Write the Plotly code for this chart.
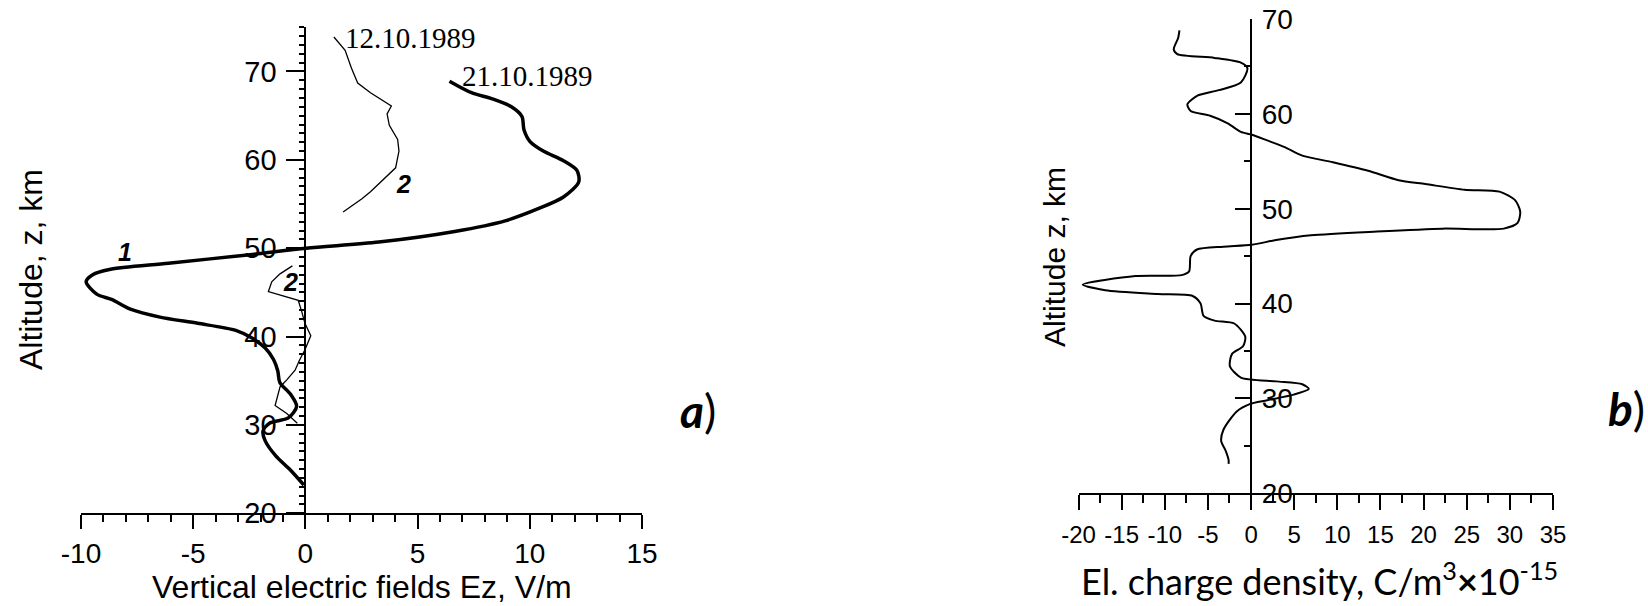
import plotly.graph_objects as go

# ---------------- data ----------------
# Panel a: curve 1 (21.10.1989), thick
z1 = [23.2, 24.9, 26.5, 28.2, 29.3, 30.2, 30.8, 32.1, 33.5, 34.8, 36.1, 37.4, 38.7, 39.8, 40.7, 41.5,
      42.2, 43.1, 44.2, 44.8, 46.2, 47.0, 47.6, 48.3, 49.3, 50.0, 50.7, 51.9, 53.1, 54.5, 55.8, 57.5,
      58.8, 59.9, 61.0, 62.1, 63.4, 64.9, 66.0, 66.9, 67.6, 68.9]
ez1 = [-0.07, -0.67, -1.32, -1.79, -1.89, -1.6, -0.76, -0.39, -0.67, -1.14, -1.23, -1.42, -1.79, -2.36,
       -3.1, -4.8, -6.48, -7.8, -8.64, -9.3, -9.77, -9.48, -8.73, -6.1, -2.36, 0.03, 3.27, 6.65, 8.9,
       10.4, 11.5, 12.18, 12.1, 11.5, 10.6, 10.0, 9.74, 9.65, 9.18, 8.33, 7.4, 6.42]

# Panel a: curve 2 (12.10.1989), thin, upper part
z2_upper = [54.1, 55.6, 56.4, 57.7, 59.1, 61.0, 62.3, 63.9, 65.2, 66.1, 66.7, 67.6, 68.7, 70.4, 72.4, 73.9]
ez2_upper = [1.68, 2.52, 2.9, 3.46, 4.02, 4.17, 4.11, 3.74, 3.64, 3.83, 3.46, 2.9, 2.33, 2.05, 1.77, 1.27]

# Panel a: curve 2, thin, lower part
z2_lower = [30.2, 31.3, 32.2, 33.2, 34.3, 35.1, 36.2, 37.3, 38.5, 40.1, 41.5, 42.8, 44.1, 45.1, 46.2, 47.1, 48.0]
ez2_lower = [-0.36, -0.83, -1.35, -1.25, -1.13, -0.83, -0.46, -0.27, -0.02, 0.24, -0.02, -0.16, -0.32,
             -1.65, -1.5, -1.13, -0.58]

# Panel b: charge density profile
zb = [68.8, 68.0, 66.8, 66.3, 65.9, 65.4, 64.8, 63.3, 62.5, 61.9, 61.0, 60.3, 59.8, 59.0, 58.1, 57.8,
      57.2, 56.5, 55.6, 54.9, 54.0, 53.0, 52.6, 52.0, 51.8, 50.9, 49.7, 48.5, 47.9, 47.9, 47.6, 47.2,
      46.7, 46.2, 46.0, 45.7, 45.0, 43.4, 43.0, 42.9, 42.0, 41.4, 41.0, 40.8, 40.0, 38.7, 38.2, 37.9,
      36.5, 35.5, 34.7, 33.4, 32.2, 31.8, 31.5, 31.0, 30.4, 29.8, 29.4, 28.6, 26.7, 25.5, 24.5, 23.5, 23.1]
rho = [-8.3, -8.45, -8.96, -8.55, -4.23, -1.18, -0.42, -1.18, -3.72, -6.26, -7.38, -7.0, -4.74, -2.7,
       -1.18, 0.09, 1.87, 3.9, 5.94, 9.5, 13.57, 17.1, 20.2, 24.75, 28.8, 30.6, 31.2, 30.9, 29.3, 22.2,
       14.6, 6.95, 2.9, 0.09, -3.2, -6.27, -7.0, -7.18, -8.04, -13.4, -19.5, -16.9, -10.8, -6.77, -5.85,
       -5.5, -4.23, -1.95, -0.67, -0.93, -2.2, -2.45, -1.18, 2.9, 5.94, 6.7, 4.93, 1.87, -0.16, -1.69,
       -3.2, -3.46, -2.95, -2.6, -2.6]

# tick labels (hyphen minus as in the original)
xa_ticks = [-10, -5, 0, 5, 10, 15]
xa_labels = ["-10", "-5", "0", "5", "10", "15"]
xb_ticks = [-20, -15, -10, -5, 0, 5, 10, 15, 20, 25, 30, 35]
xb_labels = ["-20", "-15", "-10", "-5", "0", "5", "10", "15", "20", "25", "30", "35"]
ya_ticks = [20, 30, 40, 50, 60, 70]
yb_ticks = [20, 30, 40, 50, 60, 70]

W, H = 1648, 606
SANS = "Liberation Sans, Arial, sans-serif"
SERIF = "Liberation Serif, Times New Roman, serif"
HUM = "Lato, Open Sans, sans-serif"

fig = go.Figure()
fig.add_trace(go.Scatter(x=ez1, y=z1, mode="lines", line=dict(color="black", width=3.5, shape="spline", smoothing=0.8),
                         xaxis="x", yaxis="y", showlegend=False, hoverinfo="skip"))
fig.add_trace(go.Scatter(x=ez2_upper, y=z2_upper, mode="lines", line=dict(color="black", width=1.3),
                         xaxis="x", yaxis="y", showlegend=False, hoverinfo="skip"))
fig.add_trace(go.Scatter(x=ez2_lower, y=z2_lower, mode="lines", line=dict(color="black", width=1.3),
                         xaxis="x", yaxis="y", showlegend=False, hoverinfo="skip"))
fig.add_trace(go.Scatter(x=rho, y=zb, mode="lines", line=dict(color="black", width=2, shape="spline", smoothing=0.7),
                         xaxis="x2", yaxis="y2", showlegend=False, hoverinfo="skip"))

def px(x):
    return x / W

def py(y):
    return 1 - y / H

xa_dom = [px(81), px(642)]
xb_dom = [px(1078.5), px(1553)]
x0a = xa_dom[0] + (0 - -10) / 25 * (xa_dom[1] - xa_dom[0])
x0b = xb_dom[0] + (0 - -20) / 55 * (xb_dom[1] - xb_dom[0])

common = dict(showgrid=False, zeroline=False, showline=True, linecolor="black", linewidth=2,
              ticks="outside", tickcolor="black", tickwidth=2, automargin=False, tickangle=0)

fig.update_layout(
    template="plotly_white",
    width=W, height=H, margin=dict(l=0, r=0, t=0, b=0, pad=0, autoexpand=False),
    paper_bgcolor="white", plot_bgcolor="white",
    xaxis=dict(domain=xa_dom, range=[-10, 15], anchor="y", tickmode="array", tickvals=xa_ticks, ticktext=xa_labels,
               ticklen=14, tickfont=dict(family=SANS, size=28, color="black"), ticklabelstandoff=0,
               minor=dict(tickmode="linear", dtick=1, tick0=-10, ticks="outside", ticklen=7, tickwidth=1.5,
                          tickcolor="black", showgrid=False),
               **common),
    yaxis=dict(domain=[py(513.3), py(27.3)], range=[20, 75], anchor="free", position=x0a, side="left",
               tickmode="array", tickvals=ya_ticks, ticklen=18,
               tickfont=dict(family=SANS, size=29, color="black"), ticklabelstandoff=4,
               minor=dict(tickmode="linear", dtick=1, tick0=20, ticks="outside", ticklen=5, tickwidth=1.5,
                          tickcolor="black", showgrid=False),
               **common),
    xaxis2=dict(domain=xb_dom, range=[-20, 35], anchor="y2", tickmode="array", tickvals=xb_ticks, ticktext=xb_labels,
                ticklen=15, tickfont=dict(family=SANS, size=24, color="black"), ticklabelstandoff=4,
                minor=dict(tickmode="linear", dtick=2.5, tick0=-20, ticks="outside", ticklen=8, tickwidth=1.5,
                           tickcolor="black", showgrid=False),
                **common),
    yaxis2=dict(domain=[py(493.3), py(19)], range=[20, 70], anchor="free", position=x0b, side="right",
                tickmode="array", tickvals=yb_ticks, ticklen=15,
                tickfont=dict(family=SANS, size=28, color="black"), ticklabelstandoff=4,
                minor=dict(tickmode="linear", dtick=5, tick0=20, ticks="inside", ticklen=6, tickwidth=1.5,
                           tickcolor="black", showgrid=False),
                **{**common, "ticks": "inside"}),
)

ann = []
def add(text, x, y, size, family, angle=0, xanchor="center", yanchor="middle"):
    ann.append(dict(text=text, x=px(x), y=py(y), xref="paper", yref="paper", showarrow=False,
                    font=dict(family=family, size=size, color="black"), textangle=angle,
                    xanchor=xanchor, yanchor=yanchor))

add("Vertical electric fields Ez, V/m", 362, 587, 32, SANS)
add("Altitude, z, km", 31, 270, 32, SANS, angle=-90)
add("Altitude z, km", 1054, 257, 30, SANS, angle=-90)
add("El. charge density, C/m<sup>3</sup><b>×</b>10<sup>-15</sup>", 1319, 579, 36, HUM)
add("12.10.1989", 410, 38, 29, SERIF)
add("21.10.1989", 527, 76, 29, SERIF)
add("<b><i>1</i></b>", 125, 252, 25, SANS)
add("<b><i>2</i></b>", 403, 184, 25, SANS)
add("<b><i>2</i></b>", 290, 282, 25, SANS)
add("<b><i>a</i></b>)", 698, 410, 46, HUM)
add("<b><i>b</i></b>)", 1626, 408, 46, HUM)
fig.update_layout(annotations=ann)

fig.write_html("out.html")
